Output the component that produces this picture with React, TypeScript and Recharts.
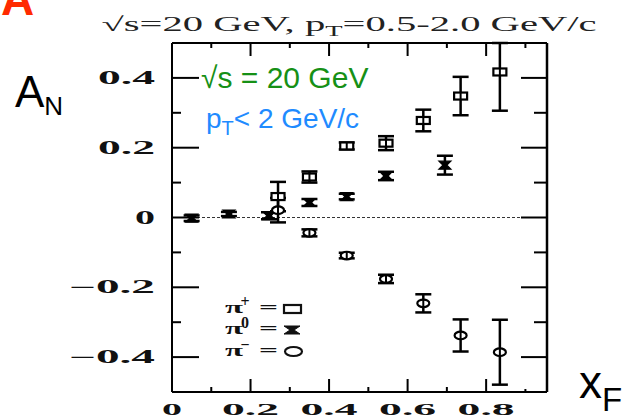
import React from 'react';
import { ScatterChart, Scatter, XAxis, YAxis, ErrorBar, ReferenceLine } from 'recharts';

// pi+ (open squares)
const piPlusX = [0.27, 0.35, 0.445, 0.545, 0.64, 0.735, 0.835];
const piPlusY = [0.06, 0.116, 0.205, 0.213, 0.278, 0.348, 0.417];
const piPlusErrLow = [0.042, 0.016, 0.01, 0.02, 0.031, 0.055, 0.111];
const piPlusErrHigh = [0.042, 0.016, 0.01, 0.02, 0.031, 0.055, 0.083];

// pi0 (bow-ties)
const piZeroX = [0.05, 0.145, 0.247, 0.35, 0.445, 0.545, 0.695];
const piZeroY = [-0.002, 0.01, 0.005, 0.043, 0.06, 0.119, 0.15];
const piZeroErr = [0.008, 0.006, 0.01, 0.01, 0.008, 0.012, 0.027];

// pi- (open circles)
const piMinusX = [0.27, 0.35, 0.445, 0.545, 0.64, 0.735, 0.835];
const piMinusY = [0.021, -0.044, -0.109, -0.176, -0.246, -0.338, -0.386];
const piMinusErr = [0.035, 0.01, 0.008, 0.012, 0.026, 0.046, 0.093];

const xTicks = [0, 0.1, 0.2, 0.3, 0.4, 0.5, 0.6, 0.7, 0.8, 0.9];
const xMajorLabels: Record<string, string> = { '0': '0', '0.2': '0.2', '0.4': '0.4', '0.6': '0.6', '0.8': '0.8' };
const yTicks = [-0.4, -0.3, -0.2, -0.1, 0, 0.1, 0.2, 0.3, 0.4];
const yMajorLabels: Record<string, string> = { '-0.4': '\u22120.4', '-0.2': '\u22120.2', '0': '0', '0.2': '0.2', '0.4': '0.4' };

const plusData = piPlusX.map((x, i) => ({ x, y: piPlusY[i], err: [piPlusErrLow[i], piPlusErrHigh[i]] }));
const zeroData = piZeroX.map((x, i) => ({ x, y: piZeroY[i], err: piZeroErr[i] }));
const minusData = piMinusX.map((x, i) => ({ x, y: piMinusY[i], err: piMinusErr[i] }));

const TICK_FONT = "'Liberation Serif', serif";

const labelWidth = (s: string) => {
  let w = 0;
  for (const c of s) {
    if (c === '.') w += 17;
    else if (c === '\u2212') w += 29;
    else w += 20;
  }
  return w;
};

const isMajor = (v: number) => Math.abs(Math.round(v * 10)) % 2 === 0;

const BottomTick = (props: any) => {
  const { x, y, payload } = props;
  const v = payload.value;
  const major = isMajor(v);
  const len = major ? 13 : v > 0.85 ? 3 : 5;
  const lab = xMajorLabels[String(v)];
  return (
    <g>
      <line x1={x} x2={x} y1={y} y2={y - len} stroke="#000" strokeWidth={2} />
      {lab !== undefined && (
        <text x={x} y={y + 23} textAnchor="middle" fontFamily={TICK_FONT} fontWeight="bold" fontSize={17}
          fill="#111" textLength={labelWidth(lab)} lengthAdjust="spacingAndGlyphs">{lab}</text>
      )}
    </g>
  );
};

const TopTick = (props: any) => {
  const { x, y, payload } = props;
  const v = payload.value;
  const len = isMajor(v) ? 13 : 5;
  return <line x1={x} x2={x} y1={y} y2={y + len} stroke="#000" strokeWidth={2} />;
};

const LeftTick = (props: any) => {
  const { x, y, payload } = props;
  const v = payload.value;
  const major = isMajor(v);
  const len = major ? 27 : 9;
  const lab = yMajorLabels[String(v)];
  return (
    <g>
      <line x1={x} x2={x + len} y1={y} y2={y} stroke="#000" strokeWidth={2} />
      {lab !== undefined && (
        <text x={x - 17} y={y + 6} textAnchor="end" fontFamily={TICK_FONT} fontWeight="bold" fontSize={18}
          fill="#111" textLength={labelWidth(lab)} lengthAdjust="spacingAndGlyphs">{lab}</text>
      )}
    </g>
  );
};

const RightTick = (props: any) => {
  const { x, y, payload } = props;
  const v = payload.value;
  const len = isMajor(v) ? 26 : 13;
  return <line x1={x} x2={x - len} y1={y} y2={y} stroke="#000" strokeWidth={2} />;
};

const SquareMarker = (props: any) => {
  const { cx, cy } = props;
  if (cx == null || cy == null) return null;
  return (
    <g>
      <rect x={cx - 6.5} y={cy - 3.5} width={13} height={7} fill="#fff" stroke="#000" strokeWidth={2.2} />
      <line x1={cx} x2={cx} y1={cy - 3.5} y2={cy + 3.5} stroke="#000" strokeWidth={2} />
    </g>
  );
};

const CircleMarker = (props: any) => {
  const { cx, cy } = props;
  if (cx == null || cy == null) return null;
  return (
    <g>
      <ellipse cx={cx} cy={cy} rx={6} ry={3.8} fill="#fff" stroke="#000" strokeWidth={2.2} />
      <line x1={cx} x2={cx} y1={cy - 4} y2={cy + 4} stroke="#000" strokeWidth={2} />
    </g>
  );
};

const BowtieMarker = (props: any) => {
  const { cx, cy } = props;
  if (cx == null || cy == null) return null;
  const pts = [
    [cx - 6, cy - 4], [cx + 6, cy - 4], [cx + 2, cy], [cx + 6, cy + 4], [cx - 6, cy + 4], [cx - 2, cy],
  ].map((p) => p.join(',')).join(' ');
  return <polygon points={pts} fill="#000" stroke="#000" strokeWidth={1.2} />;
};

const Overlay = () => (
  <svg width={626} height={419} style={{ position: 'absolute', left: 0, top: 0, pointerEvents: 'none' }}>
    <text x={1} y={15} fontFamily="'Liberation Sans', Arial, sans-serif" fontWeight="bold" fontSize={46} fill="#ff2a00">A</text>
    <text x={101.5} y={31} fontFamily="'Liberation Serif', serif" fontSize={20} fill="#222" textLength={495} lengthAdjust="spacingAndGlyphs">
      √s=20 GeV, p<tspan dy={5} fontSize={14}>T</tspan><tspan dy={-5}>=0.5-2.0 GeV/c</tspan>
    </text>
    <text x={15} y={107} fontFamily="'Liberation Sans', Arial, sans-serif" fontSize={44} fill="#000">
      A<tspan dy={8} fontSize={26}>N</tspan>
    </text>
    <text x={579} y={398} fontFamily="'Liberation Sans', Arial, sans-serif" fontSize={46} fill="#000">
      x<tspan dy={13} fontSize={33}>F</tspan>
    </text>
    <text x={201} y={88} fontFamily="'Liberation Sans', Arial, sans-serif" fontSize={30} fill="#169016">√s = 20 GeV</text>
    <text x={206} y={128} fontFamily="'Liberation Sans', Arial, sans-serif" fontSize={28} fill="#1f8bff">
      p<tspan dy={7} fontSize={20}>T</tspan><tspan dy={-7}>&lt; 2 GeV/c</tspan>
    </text>
    {/* legend */}
    {[
      { sup: '+', y: 313 },
      { sup: '0', y: 334 },
      { sup: '\u2212', y: 356 },
    ].map((r, i) => (
      <g key={i}>
        <text x={225} y={r.y} fontFamily="'Liberation Serif', serif" fontWeight="bold" fontSize={17} fill="#111"
          textLength={18} lengthAdjust="spacingAndGlyphs">π</text>
        <text x={245} y={r.y - 6} textAnchor="middle" fontFamily="'Liberation Serif', serif" fontWeight="bold" fontSize={16} fill="#111">{r.sup}</text>
        <text x={259} y={r.y} fontFamily="'Liberation Serif', serif" fontWeight="bold" fontSize={17} fill="#111"
          textLength={19} lengthAdjust="spacingAndGlyphs">=</text>
      </g>
    ))}
    <rect x={284} y={305} width={17} height={8} fill="none" stroke="#111" strokeWidth={2.2} />
    <polygon points="284,326 300,326 294,330 300,334 284,334 290,330" fill="#111" stroke="#111" strokeWidth={1} />
    <ellipse cx={293.5} cy={351.5} rx={8.5} ry={4.5} fill="none" stroke="#111" strokeWidth={2.2} />
  </svg>
);

export default function App() {
  return (
    <div style={{ position: 'absolute', left: 0, top: 0, width: 626, height: 419, background: '#fff' }}>
      <ScatterChart width={626} height={419} margin={{ top: 42, right: 78, bottom: 0, left: 0 }}>
        <XAxis xAxisId="b" dataKey="x" type="number" domain={[0, 0.955]} allowDataOverflow ticks={xTicks}
          orientation="bottom" height={27} tickLine={false} tickSize={0} tickMargin={0}
          axisLine={{ stroke: '#000', strokeWidth: 2 }} tick={(p: any) => <BottomTick {...p} />} interval={0} />
        <XAxis xAxisId="t" dataKey="x" type="number" domain={[0, 0.955]} allowDataOverflow ticks={xTicks}
          orientation="top" height={1} tickLine={false} tickSize={0} tickMargin={0}
          axisLine={{ stroke: '#000', strokeWidth: 2 }} tick={(p: any) => <TopTick {...p} />} interval={0} />
        <YAxis yAxisId="l" dataKey="y" type="number" domain={[-0.5, 0.5]} allowDataOverflow ticks={yTicks}
          orientation="left" width={172} tickLine={false} tickSize={0} tickMargin={0}
          axisLine={{ stroke: '#000', strokeWidth: 2 }} tick={(p: any) => <LeftTick {...p} />} interval={0} />
        <YAxis yAxisId="r" dataKey="y" type="number" domain={[-0.5, 0.5]} allowDataOverflow ticks={yTicks}
          orientation="right" width={1} tickLine={false} tickSize={0} tickMargin={0}
          axisLine={{ stroke: '#000', strokeWidth: 2.5 }} tick={(p: any) => <RightTick {...p} />} interval={0} />
        <ReferenceLine xAxisId="b" yAxisId="l" y={0} stroke="#333" strokeWidth={1} strokeDasharray="3 2" />
        <Scatter xAxisId="b" yAxisId="l" data={plusData} isAnimationActive={false} shape={(p: any) => <SquareMarker {...p} />}>
          <ErrorBar dataKey="err" direction="y" width={8} strokeWidth={2.5} stroke="#000" />
        </Scatter>
        <Scatter xAxisId="b" yAxisId="l" data={zeroData} isAnimationActive={false} shape={(p: any) => <BowtieMarker {...p} />}>
          <ErrorBar dataKey="err" direction="y" width={8} strokeWidth={2.5} stroke="#000" />
        </Scatter>
        <Scatter xAxisId="b" yAxisId="l" data={minusData} isAnimationActive={false} shape={(p: any) => <CircleMarker {...p} />}>
          <ErrorBar dataKey="err" direction="y" width={8} strokeWidth={2.5} stroke="#000" />
        </Scatter>
      </ScatterChart>
      <Overlay />
    </div>
  );
}
